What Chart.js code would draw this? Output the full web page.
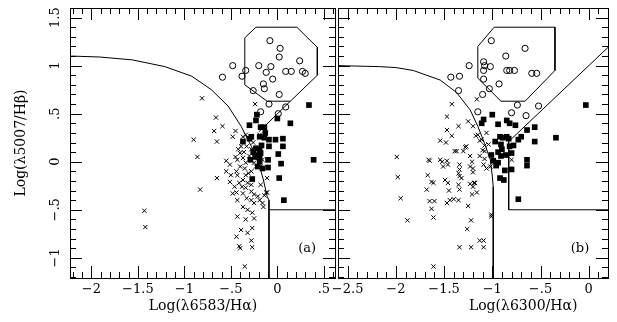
<!DOCTYPE html>
<html>
<head>
<meta charset="utf-8">
<script src="https://cdn.jsdelivr.net/npm/chart.js@4.4.0/dist/chart.umd.min.js"></script>
<style>
  html, body { margin: 0; padding: 0; background: #fff; }
  #wrap { position: relative; width: 617px; height: 322px; }
  canvas { position: absolute; top: 0; }
  #chartA { left: 0; }
  #chartB { left: 330px; }
</style>
</head>
<body>
<div id="wrap">
  <canvas id="chartA" width="340" height="322"></canvas>
  <canvas id="chartB" width="287" height="322"></canvas>
</div>
<script>
// ---- panel (a): log [NII]/Ha vs log [OIII]/Hb ----
const hiiA = [
  [-0.81,0.66],[-0.66,0.46],[-0.68,0.32],[-0.59,0.37],[-0.65,0.21],[-0.90,0.23],[-0.86,0.05],[-0.65,-0.17],
  [-0.83,-0.29],[-1.43,-0.51],[-1.42,-0.68],[-0.45,0.32],[-0.48,0.26],[-0.37,0.26],[-0.24,0.60],[-0.55,0.01],
  [-0.51,-0.03],[-0.45,0.05],[-0.40,0.09],[-0.37,0.04],[-0.34,-0.01],[-0.35,-0.07],[-0.40,-0.05],[-0.44,-0.10],
  [-0.50,-0.14],[-0.51,-0.21],[-0.43,-0.14],[-0.37,-0.19],[-0.32,-0.22],[-0.34,-0.14],[-0.28,-0.10],[-0.23,-0.05],
  [-0.38,-0.26],[-0.34,-0.27],[-0.28,-0.24],[-0.25,-0.34],[-0.37,-0.33],[-0.33,-0.38],[-0.44,-0.32],[-0.43,-0.40],
  [-0.37,-0.47],[-0.28,-0.40],[-0.25,-0.43],[-0.19,-0.40],[-0.16,-0.43],[-0.21,-0.36],[-0.14,-0.35],[-0.12,-0.32],
  [-0.18,-0.24],[-0.11,-0.32],[-0.15,-0.47],[-0.28,-0.31],[-0.32,-0.50],[-0.34,-0.60],[-0.27,-0.53],[-0.25,-0.59],
  [-0.27,-0.69],[-0.39,-0.71],[-0.32,-0.74],[-0.43,-0.57],[-0.44,-0.78],[-0.41,-0.88],[-0.40,-0.90],[-0.28,-0.82],
  [-0.27,-0.89],[-0.35,-1.09],[-0.48,-0.33],[-0.46,-0.26],[-0.43,0.02],[-0.42,0.13],[-0.39,0.16],[-0.33,0.16],
  [-0.28,0.13],[-0.25,-0.01],[-0.21,0.04],[-0.18,-0.05],[-0.11,-0.17],[-0.34,0.28],[-0.19,0.28],[-0.21,0.10],
  [-0.16,0.02],[-0.30,0.06],[-0.36,0.10],[-0.26,0.20],[-0.31,-0.12],[-0.41,-0.22],[-0.55,-0.10]
];
const linerA = [
  [0.34,0.59],[0.14,0.40],[0.39,0.02],[0.07,-0.40],[0.02,-0.17],[0.04,-0.02],[0.01,0.08],[0.06,0.16],
  [0.06,0.24],[-0.02,0.23],[0.00,0.45],[-0.09,0.23],[-0.09,0.16],[-0.10,0.02],[-0.10,-0.06],[-0.30,0.38],
  [-0.23,0.43],[-0.22,0.49],[-0.14,0.36],[-0.13,0.30],[-0.18,0.36],[-0.19,0.26],[-0.17,0.17],[-0.19,0.13],
  [-0.14,0.25],[-0.28,0.26],[-0.30,0.24],[-0.37,0.21],[-0.23,0.14],[-0.23,0.07],[-0.24,0.05],[-0.29,0.02],
  [-0.18,0.09],[-0.19,0.05],[-0.27,-0.18],[-0.21,-0.05],[-0.16,-0.07],[-0.19,0.00],[-0.26,0.10]
];
const seyfA = [
  [-0.08,1.26],[0.03,1.18],[0.02,1.09],[-0.48,1.00],[-0.20,1.00],[-0.07,0.99],[-0.34,0.95],[-0.12,0.93],
  [-0.05,0.86],[-0.15,0.81],[-0.14,0.76],[-0.26,0.74],[0.09,0.94],[0.15,0.94],[0.24,1.05],[0.27,0.94],
  [0.30,0.92],[0.02,0.70],[-0.38,0.89],[-0.59,0.88],[-0.09,0.60],[0.09,0.57],[-0.18,0.52],[0.01,0.50]
];
const boundA = [
  [-2.23,1.10],[-1.91,1.09],[-1.56,1.06],[-1.21,0.99],[-0.92,0.89],[-0.71,0.75],[-0.53,0.58],
  [-0.39,0.37],[-0.28,0.16],[-0.21,0.02],[-0.15,-0.19],[-0.11,-0.36],[-0.09,-0.40],[-0.09,-1.21]
];
const boxA = [[-0.09,-0.50],[0.62,-0.50]];
const diagA = [[-0.20,0.31],[0.14,0.63]];
const polyA = [
  [-0.35,1.29],[-0.23,1.40],[0.21,1.40],[0.43,1.19],[0.43,0.90],[0.14,0.63],[-0.11,0.63],[-0.35,0.80],[-0.35,1.29]
];

// ---- panel (b): log [OI]/Ha vs log [OIII]/Hb ----
const hiiB = [
  [-1.99,0.05],[-1.98,-0.16],[-1.95,-0.38],[-1.88,-0.61],[-1.61,-1.09],[-1.42,0.60],[-1.47,0.47],[-1.35,0.37],
  [-1.47,0.33],[-1.42,0.27],[-1.54,0.22],[-1.48,0.20],[-1.39,0.11],[-1.27,0.16],[-1.20,0.37],[-1.13,0.22],
  [-1.17,0.27],[-1.08,0.17],[-1.65,0.01],[-1.54,0.02],[-1.47,0.01],[-1.51,-0.05],[-1.46,-0.03],[-1.34,-0.03],
  [-1.34,-0.08],[-1.23,0.06],[-1.21,0.00],[-1.23,-0.05],[-1.20,-0.11],[-1.08,0.03],[-1.09,-0.03],[-1.06,-0.07],
  [-1.67,-0.14],[-1.63,-0.21],[-1.61,-0.22],[-1.68,-0.29],[-1.49,-0.19],[-1.46,-0.22],[-1.45,-0.30],[-1.34,-0.15],
  [-1.35,-0.24],[-1.34,-0.29],[-1.44,-0.40],[-1.47,-0.43],[-1.40,-0.39],[-1.35,-0.40],[-1.23,-0.23],[-1.20,-0.26],
  [-1.16,-0.32],[-1.19,-0.22],[-1.65,-0.41],[-1.60,-0.41],[-1.63,-0.49],[-1.61,-0.58],[-1.25,-0.46],[-1.22,-0.61],
  [-1.26,-0.70],[-1.34,-0.89],[-1.22,-0.89],[-1.13,-0.82],[-1.09,-0.82],[-1.09,-0.89],[-1.01,-0.55],[-1.16,0.65],
  [-1.30,0.11],[-1.37,0.11],[-0.80,0.02],[-1.15,0.28],[-1.11,0.23],[-1.06,0.30],[-1.04,0.18],[-1.08,0.11],
  [-1.13,0.06],[-1.02,-0.05],[-1.66,0.02],[-1.35,-0.12],[-1.32,-0.17],[-1.20,-0.07],[-1.18,-0.22],[-1.21,-0.34],
  [-1.01,-0.57],[-1.52,0.00],[-1.28,0.15],[-1.25,0.42],[-1.10,0.12]
];
const linerB = [
  [-0.03,0.59],[-0.34,0.25],[-0.56,0.21],[-0.56,0.36],[-0.64,0.33],[-0.70,0.26],[-1.00,0.49],[-1.09,0.44],
  [-1.11,0.40],[-0.94,0.39],[-0.85,0.43],[-0.76,0.38],[-0.82,0.40],[-0.92,0.26],[-0.89,0.25],[-0.83,0.24],
  [-0.97,0.21],[-0.91,0.18],[-0.82,0.16],[-0.78,0.17],[-0.90,0.13],[-0.94,0.10],[-1.01,0.07],[-0.91,0.06],
  [-0.86,0.07],[-0.80,0.09],[-0.99,0.01],[-0.94,-0.01],[-0.96,-0.04],[-0.87,-0.09],[-0.92,-0.17],[-0.88,-0.19],
  [-0.64,0.02],[-0.64,-0.04],[-0.73,-0.39],[-0.73,0.23],[-0.80,-0.08],[-0.85,0.26]
];
const seyfB = [
  [-1.01,1.26],[-0.66,1.18],[-0.86,1.10],[-1.24,1.00],[-1.09,1.04],[-1.08,1.00],[-1.02,0.99],[-1.09,0.95],
  [-0.85,0.95],[-0.82,0.95],[-0.77,0.95],[-0.59,0.92],[-0.54,0.92],[-1.09,0.86],[-1.43,0.88],[-1.34,0.89],
  [-0.93,0.81],[-1.03,0.76],[-1.35,0.74],[-1.10,0.70],[-0.74,0.59],[-0.52,0.58],[-1.15,0.52],[-0.80,0.51],
  [-0.65,0.48]
];
const boundB = [
  [-2.60,1.00],[-2.17,0.99],[-2.00,0.98],[-1.82,0.95],[-1.54,0.85],[-1.37,0.72],[-1.23,0.54],
  [-1.15,0.37],[-1.08,0.19],[-1.02,0.02],[-1.00,-0.15],[-0.99,-0.26],[-0.99,-1.21]
];
const boxB = [[0.20,1.19],[-0.83,0.21],[-0.83,-0.50],[0.20,-0.50]];
const polyB = [
  [-1.15,1.20],[-0.98,1.40],[-0.35,1.40],[-0.35,0.95],[-0.66,0.63],[-0.91,0.63],[-1.15,0.87],[-1.15,1.20]
];

// tick labels
const xTicksA = [-2, -1.5, -1, -0.5, 0, 0.5];
const xTicksB = [-2.5, -2, -1.5, -1, -0.5, 0];
const yTicks  = [-1, -0.5, 0, 0.5, 1, 1.5];

const pts = arr => arr.map(([x, y]) => ({ x, y }));

const fmt = v => {
   if (v === 0) return "0";
   let s = String(Math.abs(v));
   if (s.startsWith("0.")) s = s.slice(1);
   return (v < 0 ? "\u2212" : "") + s;
};

const FONT = "'DejaVu Serif', 'Liberation Serif', serif";

// frame, inward ticks, tick labels and titles
const frame = {
   id: "frame",
   afterDraw(chart, args, o) {
      const { ctx, chartArea: a, scales: { x, y } } = chart;
      ctx.save();
      ctx.strokeStyle = "#000";
      ctx.fillStyle = "#000";
      ctx.lineWidth = 1;
      ctx.strokeRect(a.left + 0.5, a.top + 0.5, a.right - a.left, a.bottom - a.top);

      ctx.beginPath();
      for (let k = Math.ceil(x.min * 10 - 1e-6); k <= Math.floor(x.max * 10 + 1e-6); k++) {
         const px = Math.round(x.getPixelForValue(k / 10)) + 0.5;
         const len = k % 5 === 0 ? 12 : 6;
         ctx.moveTo(px, a.bottom); ctx.lineTo(px, a.bottom - len);
         ctx.moveTo(px, a.top);    ctx.lineTo(px, a.top + len);
      }
      for (let k = Math.ceil(y.min * 10 - 1e-6); k <= Math.floor(y.max * 10 + 1e-6); k++) {
         const py = Math.round(y.getPixelForValue(k / 10)) + 0.5;
         const len = k % 5 === 0 ? 12 : 6;
         ctx.moveTo(a.left, py);  ctx.lineTo(a.left + len, py);
         ctx.moveTo(a.right, py); ctx.lineTo(a.right - len, py);
      }
      ctx.stroke();

      ctx.font = "13px " + FONT;
      ctx.textAlign = "center";
      ctx.textBaseline = "top";
      o.xTicks.forEach(v => ctx.fillText(fmt(v), x.getPixelForValue(v), a.bottom + 5));

      if (o.yTicks) {
         o.yTicks.forEach(v => {
            ctx.save();
            ctx.translate(56, y.getPixelForValue(v));
            ctx.rotate(-Math.PI / 2);
            ctx.textBaseline = "middle";
            ctx.fillText(fmt(v), 0, 0);
            ctx.restore();
         });
      }

      ctx.textBaseline = "middle";
      ctx.fillText(o.tag, x.getPixelForValue(o.tagAt[0]), y.getPixelForValue(o.tagAt[1]));

      ctx.font = "14px " + FONT;
      ctx.textBaseline = "alphabetic";
      ctx.fillText(o.xTitle, x.getPixelForValue(o.xTitleAt), 310);

      if (o.yTitle) {
         ctx.save();
         ctx.translate(21, (a.top + a.bottom) / 2);
         ctx.rotate(-Math.PI / 2);
         ctx.textBaseline = "middle";
         ctx.fillText(o.yTitle, 0, 0);
         ctx.restore();
      }
      ctx.restore();
   }
};

const lineSet = data => ({
   data: pts(data),
   showLine: true,
   pointRadius: 0,
   borderColor: "#000",
   borderWidth: 1,
   tension: 0,
   fill: false
});

const makeChart = (id, d, range, pad, frameOpts) => new Chart(document.getElementById(id), {
   type: "scatter",
   data: {
      datasets: [
         { data: pts(d.hii), pointStyle: "crossRot", pointRadius: 3, borderColor: "#000", borderWidth: 1 },
         { data: pts(d.liner), pointStyle: "rect", pointRadius: 4, backgroundColor: "#000", borderWidth: 0 },
         { data: pts(d.seyf), pointStyle: "circle", pointRadius: 3.1, borderColor: "#000",
           backgroundColor: "rgba(255,255,255,0)", borderWidth: 1 },
         ...d.lines.map(lineSet)
      ]
   },
   options: {
      responsive: false,
      animation: false,
      devicePixelRatio: 1,
      layout: { padding: pad },
      plugins: { legend: { display: false }, tooltip: { enabled: false }, frame: frameOpts },
      scales: {
         x: { type: "linear", display: false, min: range.x[0], max: range.x[1] },
         y: { type: "linear", display: false, min: -1.21, max: 1.6 }
      }
   },
   plugins: [frame]
});

makeChart("chartA",
   { hii: hiiA, liner: linerA, seyf: seyfA, lines: [boundA, boxA, diagA, polyA] },
   { x: [-2.23, 0.62] },
   { left: 70, right: 2, top: 8, bottom: 44 },
   { xTicks: xTicksA, yTicks: yTicks, xTitle: "Log(\u03bb6583/H\u03b1)", xTitleAt: -0.8,
     yTitle: "Log(\u03bb5007/H\u03b2)", tag: "(a)", tagAt: [0.32, -0.9] });

makeChart("chartB",
   { hii: hiiB, liner: linerB, seyf: seyfB, lines: [boundB, boxB, polyB] },
   { x: [-2.6, 0.2] },
   { left: 8, right: 9, top: 8, bottom: 44 },
   { xTicks: xTicksB, xTitle: "Log(\u03bb6300/H\u03b1)", xTitleAt: -0.68,
     tag: "(b)", tagAt: [-0.09, -0.9] });
</script>
</body>
</html>
